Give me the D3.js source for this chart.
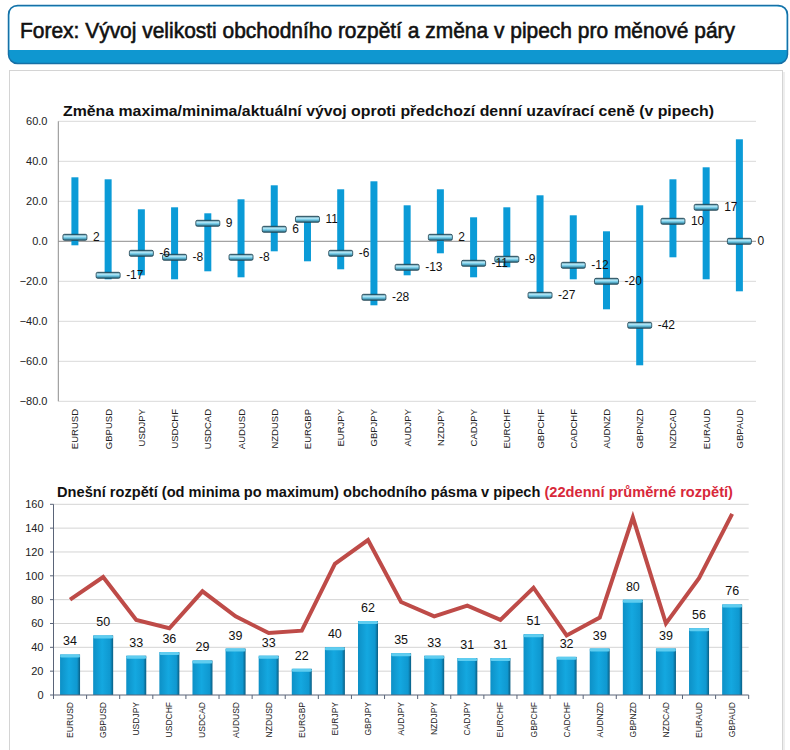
<!DOCTYPE html>
<html><head><meta charset="utf-8">
<script src="https://cdn.jsdelivr.net/npm/d3@7/dist/d3.min.js"></script>
<style>body{margin:0;background:#fff}svg{display:block}text{font-family:"Liberation Sans",Arial,sans-serif}</style>
</head><body><svg id="c" width="790" height="750"></svg>
<script>
const pairs = ["EURUSD","GBPUSD","USDJPY","USDCHF","USDCAD","AUDUSD","NZDUSD","EURGBP","EURJPY","GBPJPY","AUDJPY","NZDJPY","CADJPY","EURCHF","GBPCHF","CADCHF","AUDNZD","GBPNZD","NZDCAD","EURAUD","GBPAUD"];
const maxChange = [32,31,16,17,14,21,28,12,26,30,18,26,12,17,23,13,5,18,31,37,51];
const minChange = [-2,-19,-17,-19,-15,-18,-5,-10,-14,-32,-17,-6,-18,-13,-27,-19,-34,-62,-8,-19,-25];
const currentChange = [2,-17,-6,-8,9,-8,6,11,-6,-28,-13,2,-11,-9,-27,-12,-20,-42,10,17,0];
const todayRange = [34,50,33,36,29,39,33,22,40,62,35,33,31,31,51,32,39,80,39,56,76];
const avgRange22 = [80,99,63,56,87,66,52,54,110,130,78,66,75,63,90,50,65,149,60,98,152];
const topTicks = [60,40,20,0,-20,-40,-60,-80];
const bottomTicks = [0,20,40,60,80,100,120,140,160];

const svg = d3.select("#c");
const defs = svg.append("defs");
const gm = defs.append("linearGradient").attr("id","mk").attr("x1",0).attr("y1",0).attr("x2",0).attr("y2",1);
[[0,"#2d6a80"],[0.3,"#bdeaf7"],[0.6,"#6cc8e6"],[1,"#235a70"]].forEach(s=>gm.append("stop").attr("offset",s[0]).attr("stop-color",s[1]));
const gb = defs.append("linearGradient").attr("id","bar").attr("x1",0).attr("y1",0).attr("x2",1).attr("y2",0);
[[0,"#0d90c6"],[0.45,"#14a8e0"],[0.85,"#0f98d0"],[1,"#0a5d82"]].forEach(s=>gb.append("stop").attr("offset",s[0]).attr("stop-color",s[1]));

// Header box
svg.append("rect").attr("x",8.5).attr("y",5.5).attr("width",779).attr("height",58).attr("rx",9)
  .attr("fill","#0f97d0").attr("stroke","#1670a6").attr("stroke-width",1.5);
svg.append("path").attr("d","M9.5,50 L9.5,15 Q9.5,6.5 18,6.5 L777,6.5 Q786.5,6.5 786.5,15 L786.5,50 Z").attr("fill","#fff");
svg.append("text").attr("x",20).attr("y",38).attr("font-size",22)
  .style("font-family","'Liberation Sans Narrow','Arial Narrow',sans-serif")
  .attr("textLength",715).attr("lengthAdjust","spacingAndGlyphs").attr("fill","#111")
  .attr("stroke","#111").attr("stroke-width",0.6)
  .text("Forex: Vývoj velikosti obchodního rozpětí a změna v pipech pro měnové páry");

// Panel
svg.append("rect").attr("x",12).attr("y",72).attr("width",773).attr("height",700).attr("fill","#eee");
svg.append("rect").attr("x",9.5).attr("y",70.5).attr("width",773).attr("height",700).attr("fill","#fff").attr("stroke","#d4d4d4");

// ===== Top chart =====
const x1 = d3.scaleBand().domain(pairs).range([58.3,756]);
const y1 = d3.scaleLinear().domain([-80,60]).range([401.3,121.3]);
const gTop = svg.append("g");
gTop.append("text").attr("x",63).attr("y",116).attr("font-size",15.5).attr("font-weight","bold").attr("fill","#111")
  .attr("textLength",651).attr("lengthAdjust","spacingAndGlyphs")
  .text("Změna maxima/minima/aktuální vývoj oproti předchozí denní uzavírací ceně (v pipech)");
gTop.selectAll("line.g").data(topTicks).join("line")
  .attr("x1",58.3).attr("x2",756).attr("y1",d=>y1(d)).attr("y2",d=>y1(d))
  .attr("stroke",d=>d===0?"#8c8c8c":"#d9d9d9").attr("stroke-width",1);
gTop.append("line").attr("x1",58.3).attr("x2",58.3).attr("y1",y1(60)).attr("y2",y1(-80)).attr("stroke","#8c8c8c");
gTop.selectAll("text.yt").data(topTicks).join("text")
  .attr("x",47.5).attr("y",d=>y1(d)+4).attr("text-anchor","end").attr("font-size",11).attr("fill","#222")
  .text(d=>d3.format(".1f")(d));
gTop.selectAll("text.xl").data(pairs).join("text")
  .attr("transform",d=>`translate(${x1(d)+x1.bandwidth()/2+3.5},409) rotate(-90)`)
  .attr("text-anchor","end").attr("font-size",9.5).attr("fill","#222").text(d=>d);
gTop.selectAll("rect.rg").data(pairs).join("rect")
  .attr("x",d=>x1(d)+x1.bandwidth()/2-3.5).attr("width",7)
  .attr("y",(d,i)=>y1(maxChange[i])).attr("height",(d,i)=>y1(minChange[i])-y1(maxChange[i]))
  .attr("fill","#0b9bd7");
gTop.selectAll("rect.mk").data(pairs).join("rect")
  .attr("x",d=>x1(d)+x1.bandwidth()/2-12).attr("width",24)
  .attr("y",(d,i)=>y1(currentChange[i])-3).attr("height",6).attr("rx",1.5)
  .attr("fill","url(#mk)").attr("stroke","#1d3f4e").attr("stroke-width",0.8);
gTop.selectAll("text.vl").data(pairs).join("text")
  .attr("x",d=>x1(d)+x1.bandwidth()/2+18).attr("y",(d,i)=>y1(currentChange[i])+4)
  .attr("font-size",12).attr("fill","#111").text((d,i)=>currentChange[i]);

// ===== Bottom chart =====
const x2 = d3.scaleBand().domain(pairs).range([53.5,748.7]);
const y2 = d3.scaleLinear().domain([0,160]).range([695,504.3]);
const gBot = svg.append("g");
const bt = gBot.append("text").attr("x",57).attr("y",497).attr("font-size",14.7).attr("font-weight","bold").attr("fill","#111")
  .attr("textLength",676).attr("lengthAdjust","spacingAndGlyphs");
bt.append("tspan").text("Dnešní rozpětí (od minima po maximum) obchodního pásma v pipech ");
bt.append("tspan").attr("fill","#d8283a").text("(22denní průměrné rozpětí)");
gBot.selectAll("line.g").data(bottomTicks.slice(1)).join("line")
  .attr("x1",53.5).attr("x2",748.7).attr("y1",d=>y2(d)).attr("y2",d=>y2(d)).attr("stroke","#d4d4d4");
gBot.selectAll("text.yt").data(bottomTicks).join("text")
  .attr("x",43.5).attr("y",d=>y2(d)+4).attr("text-anchor","end").attr("font-size",11).attr("fill","#222").text(d=>d);
gBot.selectAll("line.yk").data(bottomTicks).join("line")
  .attr("x1",50).attr("x2",53.5).attr("y1",d=>y2(d)).attr("y2",d=>y2(d)).attr("stroke","#5a6478");
gBot.selectAll("rect.b").data(pairs).join("rect")
  .attr("x",d=>x2(d)+x2.bandwidth()/2-10).attr("width",20)
  .attr("y",(d,i)=>y2(todayRange[i])).attr("height",(d,i)=>y2(0)-y2(todayRange[i]))
  .attr("fill","url(#bar)");
gBot.selectAll("rect.cap").data(pairs).join("rect")
  .attr("x",d=>x2(d)+x2.bandwidth()/2-10).attr("width",20)
  .attr("y",(d,i)=>y2(todayRange[i])).attr("height",3).attr("rx",1.5).attr("fill","#5fcdf0");
gBot.selectAll("text.dl").data(pairs).join("text")
  .attr("x",d=>x2(d)+x2.bandwidth()/2).attr("y",(d,i)=>y2(todayRange[i])-9)
  .attr("text-anchor","middle").attr("font-size",12.5).attr("fill","#111").text((d,i)=>todayRange[i]);
const line = d3.line().x((d,i)=>x2(pairs[i])+x2.bandwidth()/2).y(d=>y2(d));
gBot.append("path").attr("d",line(avgRange22)).attr("fill","none").attr("stroke","#be4b48").attr("stroke-width",4).attr("stroke-linejoin","miter");
gBot.append("line").attr("x1",53.5).attr("x2",53.5).attr("y1",y2(160)).attr("y2",y2(0)).attr("stroke","#5a6478");
gBot.append("line").attr("x1",53.5).attr("x2",748.7).attr("y1",y2(0)).attr("y2",y2(0)).attr("stroke","#5a6478");
gBot.selectAll("line.xk").data(d3.range(pairs.length+1)).join("line")
  .attr("x1",i=>53.5+i*x2.step()).attr("x2",i=>53.5+i*x2.step()).attr("y1",695).attr("y2",699).attr("stroke","#5a6478");
gBot.selectAll("text.xl").data(pairs).join("text")
  .attr("transform",d=>`translate(${x2(d)+x2.bandwidth()/2+3},702) rotate(-90)`)
  .attr("text-anchor","end").attr("font-size",8.5).attr("fill","#222").text(d=>d);
</script></body></html>
